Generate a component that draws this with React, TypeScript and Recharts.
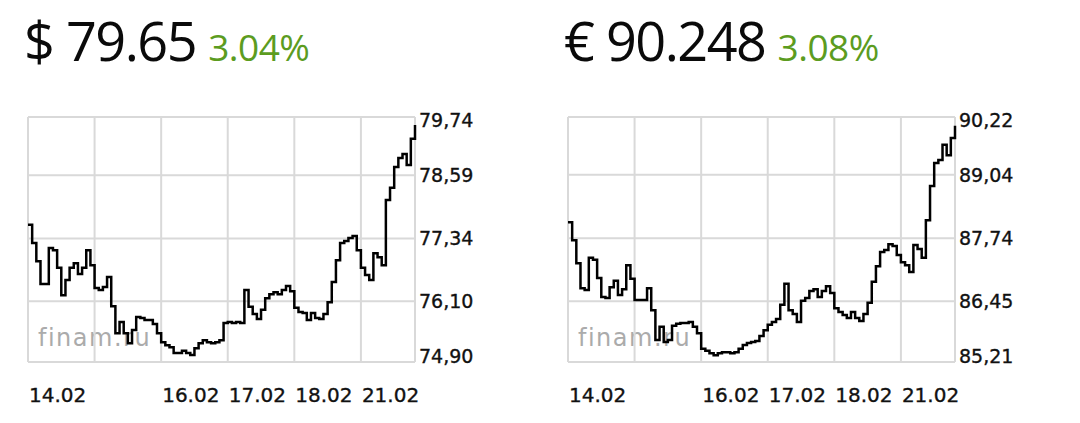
import React from 'react';
import { LineChart, Line, XAxis, YAxis, CartesianGrid } from 'recharts';

// trading days shown on the x axis (15.02 has a grid line but no label)
const dayLabels = ['14.02', '15.02', '16.02', '17.02', '18.02', '21.02'];
const hiddenDays = ['15.02'];
const pointsPerDay = [16, 16, 16, 16, 16, 14];

// USD/RUB, one value per sample, day by day
const usdRates = [
  77.61, 77.25, 76.89, 76.44, 76.44, 77.15, 77.11, 76.76, 76.22, 76.52, 76.76, 76.85, 76.64, 76.76, 77.11, 76.81,
  76.36, 76.32, 76.38, 76.58, 76.0, 75.47, 75.69, 75.47, 75.27, 75.53, 75.79, 75.77, 75.73, 75.73, 75.65, 75.47,
  75.29, 75.23, 75.19, 75.08, 75.08, 75.12, 75.08, 75.04, 75.17, 75.27, 75.33, 75.29, 75.27, 75.29, 75.33, 75.67,
  75.69, 75.67, 75.69, 75.67, 76.32, 75.99, 75.85, 75.75, 75.93, 76.16, 76.24, 76.28, 76.24, 76.32, 76.4, 76.3,
  75.97, 75.89, 75.87, 75.73, 75.87, 75.77, 75.75, 75.85, 76.08, 76.48, 76.91, 77.25, 77.29, 77.35, 77.39, 77.11,
  76.76, 76.62, 76.52, 77.05, 76.97, 76.81, 78.1, 78.34, 78.75, 78.93, 79.01, 78.79, 79.31, 79.58,
];

// EUR/RUB
const eurRates = [
  88.07, 87.7, 87.23, 86.72, 86.68, 87.34, 87.3, 86.93, 86.54, 86.52, 86.74, 86.87, 86.58, 86.7, 87.19, 86.91,
  86.48, 86.48, 86.48, 86.72, 86.27, 85.66, 85.93, 85.62, 85.66, 85.95, 85.99, 86.01, 86.01, 86.03, 85.93, 85.8,
  85.48, 85.44, 85.39, 85.35, 85.39, 85.41, 85.41, 85.39, 85.41, 85.48, 85.56, 85.6, 85.62, 85.64, 85.74, 85.86,
  85.97, 86.03, 86.09, 86.38, 86.81, 86.27, 86.19, 86.03, 86.46, 86.52, 86.66, 86.7, 86.54, 86.66, 86.76, 86.62,
  86.31, 86.23, 86.17, 86.11, 86.23, 86.11, 86.05, 86.19, 86.42, 86.85, 87.17, 87.46, 87.5, 87.62, 87.58, 87.4,
  87.25, 87.19, 87.05, 87.6, 87.52, 87.34, 88.11, 88.81, 89.28, 89.34, 89.65, 89.44, 89.79, 90.04,
];

const usdTicks = [74.9, 76.1, 77.34, 78.59, 79.74];
const eurTicks = [85.21, 86.45, 87.74, 89.04, 90.22];

const dayStarts = pointsPerDay.reduce<number[]>((acc, n, k) => {
  acc.push(k === 0 ? 0 : acc[k - 1] + pointsPerDay[k - 1]);
  return acc;
}, []);
const lastIndex = pointsPerDay.reduce((a, b) => a + b, 0) - 1;
const xTicks = [...dayStarts, lastIndex];

const toRows = (values: number[]) => values.map((v, i) => ({ i, v }));

const tickFont = {
  fontFamily: '"DejaVu Sans", Verdana, sans-serif',
  fill: '#111',
  stroke: '#111',
  strokeWidth: 0.35,
};

const DayTick = (props: any) => {
  const { x, y, payload } = props;
  const k = dayStarts.indexOf(payload.value);
  const label = k >= 0 ? dayLabels[k] : '';
  if (!label || hiddenDays.includes(label)) return <g />;
  return (
    <text x={x + 1} y={y + 38} textAnchor="start" fontSize={20} {...tickFont}>
      {label}
    </text>
  );
};

const makeRateTick = (ticks: number[]) => (props: any) => {
  const { x, y, payload } = props;
  const v = payload.value;
  // first/last labels are pulled inside the plot box
  let dy = 7;
  if (v === ticks[ticks.length - 1]) dy = 10;
  if (v === ticks[0]) dy = 1;
  return (
    <text x={x + 2} y={y + dy} textAnchor="start" fontSize={19} {...tickFont}>
      {v.toFixed(2).replace('.', ',')}
    </text>
  );
};

interface PanelProps {
  left: number;
  symbol: string;
  price: string;
  change: string;
  values: number[];
  ticks: number[];
}

const Panel: React.FC<PanelProps> = ({ left, symbol, price, change, values, ticks }) => {
  const RateTick = makeRateTick(ticks);
  return (
    <div style={{ position: 'absolute', left, top: 0, width: 540, height: 423 }}>
      <div
        style={{
          position: 'absolute',
          left: 24,
          top: 12,
          whiteSpace: 'nowrap',
          fontFamily: '"Open Sans", sans-serif',
          lineHeight: '56px',
        }}
      >
        <span style={{ fontSize: 54, fontWeight: 500, color: '#0a0a0a', letterSpacing: -1.5 }}>
          {symbol} {price}
        </span>
        <span style={{ fontSize: 37, color: '#5c9c1f', marginLeft: 12, letterSpacing: -0.5 }}>{change}</span>
      </div>
      <div
        style={{
          position: 'absolute',
          left: 38,
          top: 324,
          fontFamily: '"DejaVu Sans", Verdana, sans-serif',
          fontSize: 24,
          letterSpacing: 1.5,
          color: '#ababab',
        }}
      >
        finam.ru
      </div>
      <div style={{ position: 'absolute', left: 0, top: 100 }}>
        <LineChart
          width={490}
          height={310}
          data={toRows(values)}
          margin={{ top: 17, right: 5, bottom: 8, left: 28 }}
        >
          <CartesianGrid stroke="#d9d9d9" strokeWidth={2} />
          <XAxis
            dataKey="i"
            type="number"
            domain={[0, lastIndex]}
            ticks={xTicks}
            tick={<DayTick />}
            tickLine={false}
            axisLine={false}
            tickSize={0}
            height={40}
            interval={0}
          />
          <YAxis
            orientation="right"
            type="number"
            domain={[ticks[0], ticks[ticks.length - 1]]}
            ticks={ticks}
            allowDataOverflow
            tick={<RateTick />}
            tickLine={false}
            axisLine={false}
            tickSize={0}
            width={70}
            interval={0}
          />
          <Line
            dataKey="v"
            type="stepAfter"
            stroke="#000"
            strokeWidth={2.5}
            dot={false}
            isAnimationActive={false}
          />
        </LineChart>
      </div>
    </div>
  );
};

export default function App() {
  return (
    <div style={{ position: 'absolute', left: 0, top: 0, width: 1080, height: 423, background: '#fff', overflow: 'hidden' }}>
      <Panel left={0} symbol="$" price="79.65" change="3.04%" values={usdRates} ticks={usdTicks} />
      <Panel left={540} symbol="€" price="90.248" change="3.08%" values={eurRates} ticks={eurTicks} />
    </div>
  );
}
